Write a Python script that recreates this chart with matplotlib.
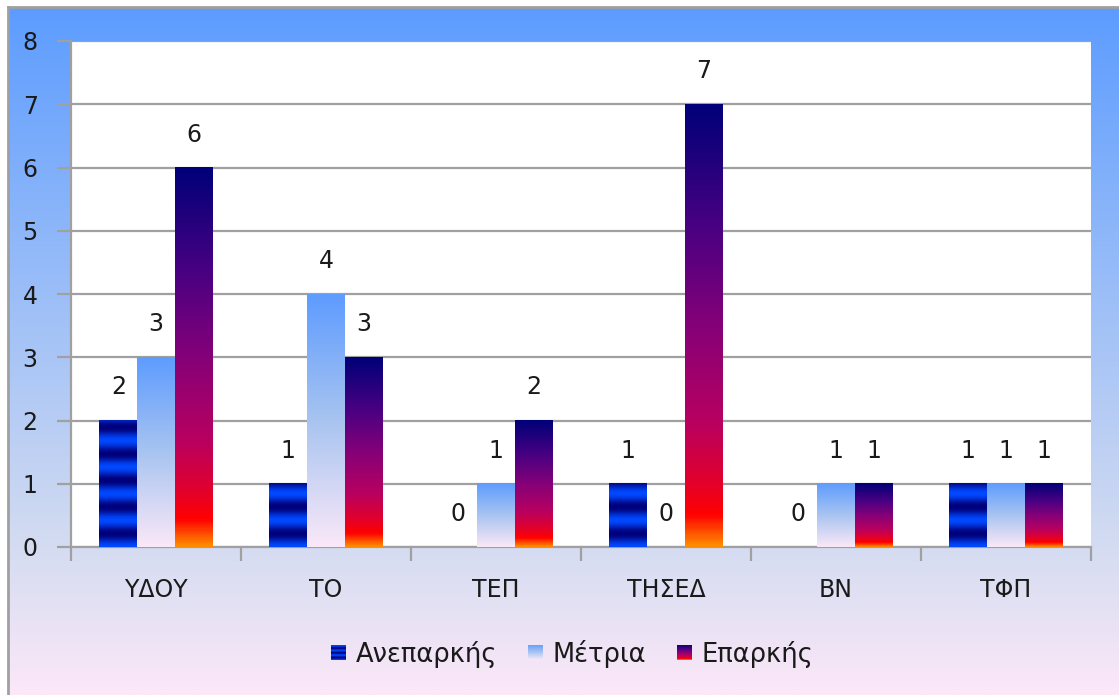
import numpy as np
import matplotlib
matplotlib.use("Agg")
import matplotlib.pyplot as plt
from matplotlib.patches import Patch
from matplotlib.colors import LinearSegmentedColormap, to_rgb

categories = ["ΥΔΟΥ", "ΤΟ", "ΤΕΠ", "ΤΗΣΕΔ", "ΒΝ", "ΤΦΠ"]
series_names = ["Ανεπαρκής", "Μέτρια", "Επαρκής"]
aneparkis = [2, 1, 0, 1, 0, 1]
metria = [3, 4, 1, 0, 1, 1]
eparkis = [6, 3, 2, 7, 1, 1]
y_ticks = [0, 1, 2, 3, 4, 5, 6, 7, 8]

W, H = 1119, 695
DPI = 100
FS = 17
plt.rcParams['font.family'] = ['DejaVu Sans']
fig = plt.figure(figsize=(W / DPI, H / DPI), dpi=DPI)

# --- figure background gradient ---
bg = fig.add_axes([8 / W, 0, 1 - 8 / W, (H - 7) / H], zorder=-10)
top_c = np.array(to_rgb("#5C9CFF"))
mid_c = np.array(to_rgb("#D4DCF1"))
bot_c = np.array(to_rgb("#FCE8F8"))
t = np.linspace(0, 1, 400)[:, None]
frac_mid = (547 - 7) / (695 - 7)
grad = np.where(t < frac_mid,
                top_c + (mid_c - top_c) * (t / frac_mid),
                mid_c + (bot_c - mid_c) * ((t - frac_mid) / (1 - frac_mid)))
bg.imshow(grad[:, None, :], aspect='auto', extent=[0, 1, 0, 1])
bg.set_xlim(0, 1); bg.set_ylim(0, 1)
bg.set_xticks([]); bg.set_yticks([])
for s in ["right", "bottom"]:
    bg.spines[s].set_visible(False)
for s in ["left", "top"]:
    bg.spines[s].set_color("#A0A0A0")
    bg.spines[s].set_linewidth(2)

# --- main axes ---
L, R, T, B = 71, 1091, 41, 547
ax = fig.add_axes([L / W, (H - B) / H, (R - L) / W, (B - T) / H])
ax.set_facecolor("white")

eparkis_cmap = LinearSegmentedColormap.from_list("ep", [
    (0.0, "#FF8C00"), (0.07, "#FF0000"), (0.15, "#E0002E"),
    (0.28, "#B80060"), (0.5, "#850078"), (0.72, "#4A0082"), (1.0, "#000078")])
metria_cmap = LinearSegmentedColormap.from_list("me", [
    (0.0, "#FAE8F8"), (0.5, "#A8C4F0"), (1.0, "#5E9CFF")])
dark_b = np.array(to_rgb("#00007A"))
bright_b = np.array(to_rgb("#0048FF"))

n = len(categories)
x = np.arange(n)
bw = 0.222
series = [aneparkis, metria, eparkis]
offsets = [-bw, 0, bw]

def draw_bar(xc, h, kind):
    if h <= 0:
        return
    x0, x1 = xc - bw / 2, xc + bw / 2
    yy = np.linspace(0, 1, 300)[::-1]
    if kind == 0:
        hv = yy * h
        m = 0.5 + 0.5 * np.cos(2 * np.pi * (hv) / 0.42)
        img = bright_b + (dark_b - bright_b) * (1 - m)[:, None]
        img = img[:, None, :]
    elif kind == 1:
        img = metria_cmap(yy)[:, None, :3]
    else:
        img = eparkis_cmap(yy)[:, None, :3]
    ax.imshow(img, aspect='auto', extent=[x0, x1, 0, h], zorder=3,
              interpolation='bilinear')

for k, vals in enumerate(series):
    for i, v in enumerate(vals):
        draw_bar(x[i] + offsets[k], v, k)
        ax.annotate(str(v), (x[i] + offsets[k], v), xytext=(0, 21),
                    textcoords='offset pixels', ha='center', va='bottom',
                    fontsize=FS, color='#1A1A1A', zorder=5)

ax.set_xlim(-0.5, n - 0.5)
ax.set_ylim(0, 8)
ax.set_yticks(y_ticks)
ax.set_yticklabels([str(v) for v in y_ticks], fontsize=FS, color='#1A1A1A')
ax.yaxis.grid(True, color='#A0A0A0', linewidth=1.6, zorder=1)
ax.set_axisbelow(True)
ax.tick_params(axis='y', length=10, width=1.6, color='#A0A0A0', pad=14)
ax.set_xticks(np.arange(-0.5, n, 1.0))
ax.set_xticklabels([])
ax.set_xticks(x, minor=True)
ax.set_xticklabels(categories, minor=True, fontsize=FS, color='#1A1A1A')
ax.tick_params(axis='x', which='major', length=10, width=1.6, color='#A0A0A0')
ax.tick_params(axis='x', which='minor', length=0, pad=22)
for s in ["top", "right"]:
    ax.spines[s].set_visible(False)
for s in ["left", "bottom"]:
    ax.spines[s].set_color("#A0A0A0")
    ax.spines[s].set_linewidth(1.6)

# --- legend ---
LFS = 18.5
handles = [Patch(facecolor="none", edgecolor="none", label=s) for s in series_names]
leg = fig.legend(handles=handles, loc='center', bbox_to_anchor=(572 / W, (H - 654) / H),
                 ncol=3, frameon=False, fontsize=LFS, handlelength=0.6,
                 handleheight=0.6, handletextpad=0.35, columnspacing=1.2)
for txt in leg.get_texts():
    txt.set_color('#1A1A1A')

fig.canvas.draw()
renderer = fig.canvas.get_renderer()
for k, hnd in enumerate(leg.legend_handles):
    bb = hnd.get_window_extent(renderer)
    s = 15
    cx, cy = (bb.x0 + bb.x1) / 2, (bb.y0 + bb.y1) / 2
    la = fig.add_axes([(cx - s / 2) / W, (cy - s / 2) / H, s / W, s / H])
    yy = np.linspace(0, 1, 60)[::-1]
    if k == 0:
        m = 0.5 + 0.5 * np.cos(2 * np.pi * yy / 0.3)
        img = (bright_b + (dark_b - bright_b) * (1 - m)[:, None])[:, None, :]
    elif k == 1:
        img = metria_cmap(yy)[:, None, :3]
    else:
        img = eparkis_cmap(yy)[:, None, :3]
    la.imshow(img, aspect='auto', extent=[0, 1, 0, 1])
    la.axis('off')

fig.savefig("out.png", dpi=DPI)
